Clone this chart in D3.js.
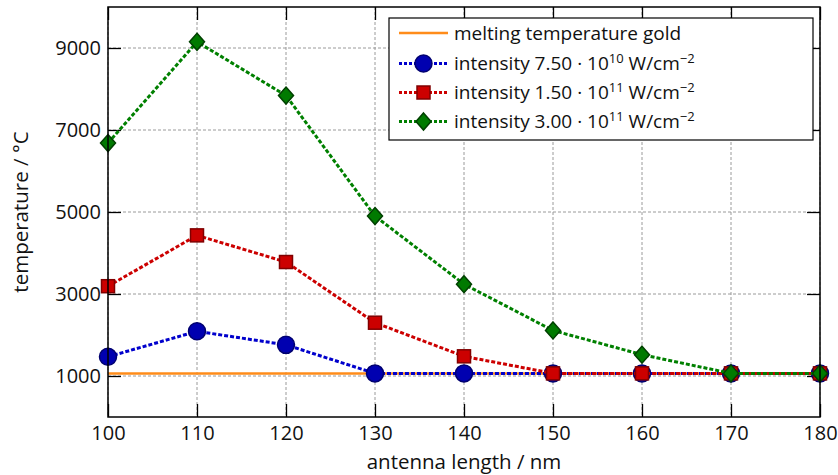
<!DOCTYPE html>
<html><head><meta charset="utf-8">
<script src="https://cdn.jsdelivr.net/npm/d3@7"></script>
<style>
body{margin:0;background:#fff;}
text{font-family:"Open Sans",sans-serif;fill:#111;}
</style></head>
<body><svg id="c" width="838" height="475"></svg>
<script>
const lengths = [100,110,120,130,140,150,160,170,180];
const meltingGold = 1064;
const int075e10 = [1470,2090,1760,1064,1064,1064,1064,1064,1064];
const int150e11 = [3190,4430,3780,2300,1480,1064,1064,1064,1064];
const int300e11 = [6680,9150,7840,4900,3240,2110,1520,1064,1064];
const xTicks = [100,110,120,130,140,150,160,170,180];
const yTicks = [1000,3000,5000,7000,9000];

const W=838,H=475, m={l:108,r:18,t:7,b:58};
const svg=d3.select("#c");
const x=d3.scaleLinear().domain([100,180]).range([m.l,W-m.r]);
const y=d3.scaleLinear().domain([0,10000]).range([H-m.b,m.t]);
const pw=W-m.l-m.r, ph=H-m.t-m.b;

// grid
const grid=svg.append("g").attr("stroke","#9a9a9a").attr("stroke-width",1).attr("stroke-dasharray","3,2");
grid.selectAll(".gx").data(xTicks).join("line").attr("x1",d=>x(d)).attr("x2",d=>x(d)).attr("y1",m.t).attr("y2",H-m.b);
grid.selectAll(".gy").data(yTicks).join("line").attr("y1",d=>y(d)).attr("y2",d=>y(d)).attr("x1",m.l).attr("x2",W-m.r);

// axes with inward ticks
const tl=13;
svg.append("g").attr("transform",`translate(0,${H-m.b})`).call(d3.axisBottom(x).tickValues(xTicks).tickSizeInner(-tl).tickSizeOuter(0).tickPadding(9))
 .call(g=>{g.select(".domain").remove();g.selectAll("text").attr("font-size",20).style("font-family","Open Sans");g.selectAll("line").attr("stroke","#000").attr("stroke-width",1.3);});
svg.append("g").attr("transform",`translate(0,${m.t})`).call(d3.axisTop(x).tickValues(xTicks).tickSizeInner(-tl).tickSizeOuter(0).tickFormat(""))
 .call(g=>{g.select(".domain").remove();g.selectAll("line").attr("stroke","#000").attr("stroke-width",1.3);});
svg.append("g").attr("transform",`translate(${m.l},0)`).call(d3.axisLeft(y).tickValues(yTicks).tickSizeInner(-tl).tickSizeOuter(0).tickPadding(7).tickFormat(d3.format("d")))
 .call(g=>{g.select(".domain").remove();g.selectAll("text").attr("font-size",20).style("font-family","Open Sans");g.selectAll("line").attr("stroke","#000").attr("stroke-width",1.3);});
svg.append("g").attr("transform",`translate(${W-m.r},0)`).call(d3.axisRight(y).tickValues(yTicks).tickSizeInner(-tl).tickSizeOuter(0).tickFormat(""))
 .call(g=>{g.select(".domain").remove();g.selectAll("line").attr("stroke","#000").attr("stroke-width",1.3);});

// axis labels
svg.append("text").attr("x",x(140)).attr("y",469).attr("text-anchor","middle").attr("font-size",20.5).text("antenna length / nm");
svg.append("text").attr("transform",`translate(28,${(m.t+H-m.b)/2}) rotate(-90)`).attr("text-anchor","middle").attr("font-size",20.5).text("temperature / °C");

// melting line
const line=d3.line().x((d,i)=>x(lengths[i])).y(d=>y(d));
svg.append("line").attr("x1",x(100)).attr("x2",x(180)).attr("y1",y(meltingGold)).attr("y2",y(meltingGold)).attr("stroke","#ff8c1a").attr("stroke-width",2.5);

const series=[
 {vals:int075e10,line:"#0000cc",fill:"#0000b0",stroke:"#000070",shape:"circle"},
 {vals:int150e11,line:"#cc0000",fill:"#cc0000",stroke:"#800000",shape:"square"},
 {vals:int300e11,line:"#008000",fill:"#007a00",stroke:"#004000",shape:"diamond"}
];
function marker(g,shape,fill,stroke){
 if(shape==="circle") return g.append("circle").attr("r",8.5).attr("fill",fill).attr("stroke",stroke).attr("stroke-width",1.5);
 if(shape==="square") return g.append("rect").attr("x",-6.5).attr("y",-6.5).attr("width",13).attr("height",13).attr("fill",fill).attr("stroke",stroke).attr("stroke-width",1.5);
 return g.append("path").attr("d","M0,-8.5L7.5,0L0,8.5L-7.5,0Z").attr("fill",fill).attr("stroke",stroke).attr("stroke-width",1.5);
}
series.forEach(s=>{
 svg.append("path").attr("d",line(s.vals)).attr("fill","none").attr("stroke",s.line).attr("stroke-width",3).attr("stroke-dasharray","4,2");
 s.vals.forEach((v,i)=>{
  const g=svg.append("g").attr("transform",`translate(${x(lengths[i])},${y(v)})`);
  marker(g,s.shape,s.fill,s.stroke);
 });
});

// frame
svg.append("rect").attr("x",m.l).attr("y",m.t).attr("width",pw).attr("height",ph).attr("fill","none").attr("stroke","#000").attr("stroke-width",1.5);

// legend
const lg=svg.append("g");
lg.append("rect").attr("x",389).attr("y",18).attr("width",424).attr("height",122).attr("fill","#fff").attr("stroke","#000").attr("stroke-width",1.2);
const rows=[33,63.5,92.5,121.5];
lg.append("line").attr("x1",399).attr("x2",448).attr("y1",rows[0]).attr("y2",rows[0]).attr("stroke","#ff8c1a").attr("stroke-width",2.5);
lg.append("text").attr("x",454).attr("y",rows[0]+6.5).attr("font-size",19).text("melting temperature gold");
const labels=[["7.50","10"],["1.50","11"],["3.00","11"]];
series.forEach((s,i)=>{
 const yy=rows[i+1];
 lg.append("line").attr("x1",399).attr("x2",448).attr("y1",yy).attr("y2",yy).attr("stroke",s.line).attr("stroke-width",3).attr("stroke-dasharray","3,2");
 marker(lg.append("g").attr("transform",`translate(423.5,${yy})`),s.shape,s.fill,s.stroke);
 const t=lg.append("text").attr("x",454).attr("y",yy+6.5).attr("font-size",19);
 t.append("tspan").text(`intensity ${labels[i][0]} · 10`);
 t.append("tspan").attr("dy",-7).attr("font-size",13).text(labels[i][1]);
 t.append("tspan").attr("dy",7).text(" W/cm");
 t.append("tspan").attr("dy",-7).attr("font-size",13).text("−2");
});
</script></body></html>
